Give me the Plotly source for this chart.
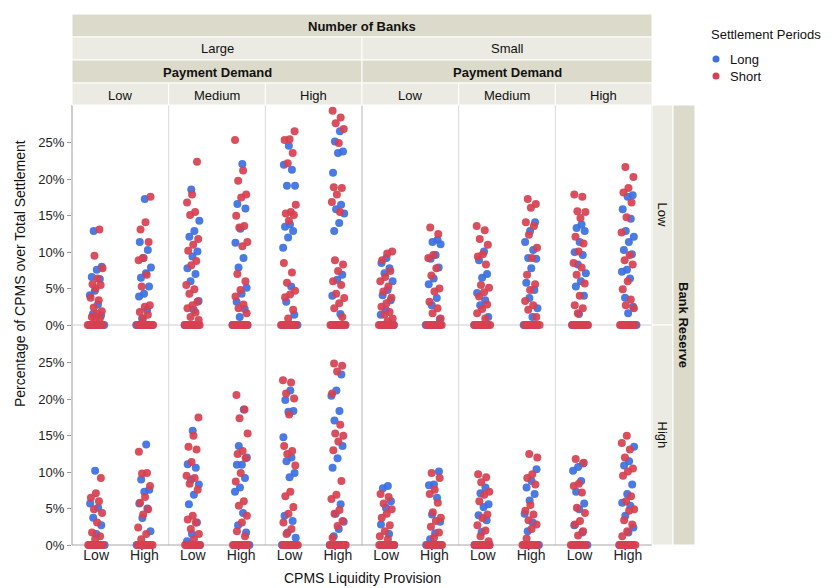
import plotly.graph_objects as go
from plotly.subplots import make_subplots

FONT = "Liberation Sans, Arial, sans-serif"
BLUE = "#3b6fe2"
RED = "#d7404f"
STRIP_DARK = "#dcdacb"
STRIP_LIGHT = "#ebebe3"

# ---- categories -----------------------------------------------------------
settlement_periods = ["Long", "Short"]
cpms_levels = ["Low", "High"]
bank_counts = ["Large", "Small"]
demand_levels = ["Low", "Medium", "High"]
reserve_levels = ["Low", "High"]
y_tick_values = [0, 5, 10, 15, 20, 25]
y_tick_labels = ["0%", "5%", "10%", "15%", "20%", "25%"]

# ---- percentage of CPMS over total settlement ------------------------------
# naming: r<bank reserve>_<number of banks>_<payment demand>_<settlement period>
# each dict holds the runs for CPMS liquidity provision Low / High

# Bank Reserve = Low
rlow_large_low_long = {
    "Low": [12.9, 8.0, 7.6, 6.6, 6.3, 4.7, 4.1, 2.8, 1.5, 1.3, 0, 0, 0, 0, 0, 0],
    "High": [17.3, 11.4, 10.3, 9.2, 7.9, 7.1, 6.5, 5.3, 4.3, 3.9, 2.1, 0.9, 0, 0, 0, 0, 0, 0],
}
rlow_large_low_short = {
    "Low": [13.1, 9.5, 7.8, 6.4, 5.6, 5.5, 5.0, 3.75, 3.4, 2.4, 1.9, 1.5, 1.1, 0.9, 0.7, 0, 0, 0, 0, 0, 0, 0, 0],
    "High": [17.6, 14.1, 13.1, 11.4, 9.2, 8.9, 6.9, 5.3, 2.7, 2.5, 1.8, 1.4, 0.9, 0, 0, 0, 0, 0, 0, 0, 0],
}
rlow_large_medium_long = {
    "Low": [18.6, 14.3, 12.9, 12.1, 10.1, 9.4, 7.8, 7.0, 6.0, 3.3, 2.1, 0, 0, 0, 0, 0, 0],
    "High": [22.1, 16.6, 16.0, 13.2, 11.3, 9.2, 7.9, 5.1, 4.3, 3.2, 2.2, 1.1, 0, 0, 0, 0, 0, 0],
}
rlow_large_medium_short = {
    "Low": [22.4, 17.9, 16.8, 15.5, 15.1, 11.8, 11.0, 10.2, 8.8, 8.2, 5.5, 4.9, 4.3, 3.2, 2.7, 2.3, 1.7, 1.1, 0.7, 0, 0, 0, 0, 0, 0, 0, 0],
    "High": [25.4, 21.2, 19.8, 17.9, 17.5, 15.0, 13.6, 13.4, 11.4, 10.8, 7.0, 6.0, 4.8, 3.9, 2.8, 2.3, 1.6, 0, 0, 0, 0, 0, 0, 0, 0],
}
rlow_large_high_long = {
    "Low": [24.6, 22.0, 21.3, 19.1, 19.1, 13.8, 13.5, 12.9, 12.0, 10.6, 5.3, 3.2, 1.4, 0, 0, 0, 0, 0, 0],
    "High": [26.6, 25.2, 23.8, 23.6, 20.9, 16.5, 15.9, 15.3, 14.0, 12.9, 6.9, 6.2, 4.0, 1.5, 0, 0, 0, 0, 0, 0],
}
rlow_large_high_short = {
    "Low": [26.6, 25.5, 25.4, 23.6, 22.2, 16.5, 15.5, 15.3, 15.1, 14.3, 8.5, 7.2, 5.8, 4.7, 4.2, 3.8, 2.1, 0.9, 0, 0, 0, 0, 0, 0, 0, 0],
    "High": [29.4, 28.5, 27.7, 26.9, 25.0, 18.9, 18.8, 17.9, 16.9, 15.5, 8.9, 8.3, 7.4, 6.0, 5.5, 4.3, 3.7, 3.0, 2.3, 1.1, 0, 0, 0, 0, 0, 0, 0, 0],
}
rlow_small_low_long = {
    "Low": [9.2, 8.5, 7.8, 7.1, 6.0, 4.8, 4.1, 3.4, 2.1, 1.4, 0, 0, 0, 0, 0, 0],
    "High": [11.7, 11.4, 11.1, 9.6, 9.1, 7.9, 6.4, 5.6, 3.7, 2.7, 0.8, 0, 0, 0, 0, 0, 0],
}
rlow_small_low_short = {
    "Low": [10.1, 9.8, 8.9, 7.4, 6.6, 6.0, 5.3, 4.6, 3.75, 3.0, 2.5, 1.8, 1.4, 0.9, 0.5, 0, 0, 0, 0, 0, 0, 0, 0],
    "High": [13.4, 12.5, 9.6, 9.2, 7.8, 6.8, 5.0, 4.6, 3.2, 2.3, 1.6, 0.9, 0, 0, 0, 0, 0, 0, 0, 0],
}
rlow_small_medium_long = {
    "Low": [10.1, 8.9, 7.0, 6.5, 4.4, 3.4, 2.7, 1.1, 0, 0, 0, 0, 0, 0],
    "High": [14.1, 12.9, 11.4, 10.3, 9.2, 9.1, 7.8, 5.8, 4.8, 3.7, 2.3, 1.1, 0, 0, 0, 0, 0, 0],
}
rlow_small_medium_short = {
    "Low": [13.6, 13.0, 11.8, 11.0, 9.7, 9.4, 8.3, 5.5, 5.1, 4.5, 3.9, 2.8, 2.2, 1.6, 0.9, 0, 0, 0, 0, 0, 0, 0, 0],
    "High": [17.3, 16.6, 16.1, 14.1, 13.6, 12.4, 10.6, 9.2, 6.9, 5.6, 4.8, 3.3, 2.7, 2.1, 1.1, 0, 0, 0, 0, 0, 0, 0, 0],
}
rlow_small_high_long = {
    "Low": [13.8, 13.3, 12.9, 11.4, 10.0, 9.6, 8.3, 7.1, 6.0, 5.3, 4.0, 1.5, 0, 0, 0, 0, 0, 0],
    "High": [17.8, 17.6, 15.9, 14.6, 12.9, 12.1, 11.4, 10.3, 9.7, 7.6, 7.3, 6.4, 3.75, 2.5, 1.6, 0, 0, 0, 0, 0, 0],
}
rlow_small_high_short = {
    "Low": [17.9, 17.6, 15.6, 15.5, 14.7, 12.1, 11.2, 10.1, 8.5, 7.9, 6.9, 5.7, 4.0, 2.7, 2.3, 1.6, 0, 0, 0, 0, 0, 0, 0, 0],
    "High": [21.7, 20.3, 18.8, 18.2, 16.8, 14.8, 12.7, 9.6, 8.9, 8.3, 6.0, 4.9, 3.5, 2.7, 2.3, 0, 0, 0, 0, 0, 0, 0, 0],
}

# Bank Reserve = High
rhigh_large_low_long = {
    "Low": [10.2, 5.7, 5.1, 3.75, 2.7, 1.5, 0, 0, 0, 0, 0, 0],
    "High": [13.8, 9.0, 7.6, 7.3, 5.7, 5.0, 3.7, 1.9, 0, 0, 0, 0, 0, 0],
}
rhigh_large_low_short = {
    "Low": [9.2, 7.1, 6.5, 6.0, 4.9, 4.4, 3.1, 1.7, 1.2, 0.8, 0, 0, 0, 0, 0, 0, 0, 0],
    "High": [12.8, 9.9, 9.8, 8.1, 6.6, 5.8, 4.9, 4.2, 2.4, 1.5, 0.8, 0, 0, 0, 0, 0, 0, 0, 0],
}
rhigh_large_medium_long = {
    "Low": [15.7, 11.1, 10.6, 9.0, 8.3, 6.9, 5.6, 3.1, 1.5, 0.5, 0, 0, 0, 0, 0, 0],
    "High": [18.6, 13.6, 12.0, 11.0, 11.0, 9.2, 7.9, 7.3, 4.4, 2.7, 1.7, 0, 0, 0, 0, 0, 0],
}
rhigh_large_medium_short = {
    "Low": [17.5, 15.0, 13.5, 13.1, 11.4, 9.5, 9.2, 8.4, 7.6, 4.0, 3.5, 3.1, 2.2, 1.5, 0.8, 0, 0, 0, 0, 0, 0, 0, 0],
    "High": [20.6, 18.6, 17.4, 15.3, 12.9, 12.5, 11.9, 9.9, 8.7, 6.0, 5.4, 4.0, 3.1, 1.9, 1.2, 0, 0, 0, 0, 0, 0, 0, 0],
}
rhigh_large_high_long = {
    "Low": [21.2, 19.9, 18.4, 18.3, 14.8, 12.0, 11.5, 9.9, 9.3, 4.0, 3.3, 1.7, 1.0, 0, 0, 0, 0, 0, 0],
    "High": [23.4, 21.2, 20.5, 18.4, 17.1, 13.6, 11.9, 10.6, 5.6, 4.3, 3.2, 2.2, 1.2, 0, 0, 0, 0, 0, 0],
}
rhigh_large_high_short = {
    "Low": [22.6, 22.3, 20.8, 20.1, 17.9, 13.6, 12.9, 12.5, 10.9, 7.3, 6.7, 5.2, 4.3, 3.1, 2.2, 1.5, 0, 0, 0, 0, 0, 0, 0, 0],
    "High": [24.9, 24.6, 23.8, 20.8, 16.5, 15.3, 15.0, 14.2, 13.0, 8.8, 6.9, 6.3, 4.8, 4.3, 3.3, 2.6, 1.0, 0, 0, 0, 0, 0, 0, 0, 0],
}
rhigh_small_low_long = {
    "Low": [8.1, 7.8, 6.0, 5.1, 2.8, 1.5, 0, 0, 0, 0, 0, 0],
    "High": [10.1, 8.3, 8.2, 6.5, 4.2, 3.2, 1.6, 0.8, 0, 0, 0, 0, 0, 0],
}
rhigh_small_low_short = {
    "Low": [7.0, 6.6, 5.7, 4.9, 4.3, 3.75, 2.7, 1.9, 1.2, 0.8, 0, 0, 0, 0, 0, 0, 0, 0],
    "High": [9.9, 9.2, 7.6, 7.0, 5.8, 4.5, 3.75, 3.3, 2.5, 1.7, 1.0, 0, 0, 0, 0, 0, 0, 0, 0],
}
rhigh_small_medium_long = {
    "Low": [7.9, 7.1, 5.6, 5.2, 4.1, 3.4, 1.8, 0, 0, 0, 0, 0, 0],
    "High": [10.4, 8.8, 7.9, 7.0, 6.1, 4.3, 3.1, 1.9, 0, 0, 0, 0, 0, 0],
}
rhigh_small_medium_short = {
    "Low": [9.7, 9.3, 8.6, 7.3, 6.9, 6.0, 4.2, 3.7, 2.7, 2.0, 1.2, 0.5, 0, 0, 0, 0, 0, 0, 0, 0],
    "High": [12.5, 12.0, 9.7, 9.2, 8.3, 5.5, 4.7, 4.2, 3.4, 2.8, 2.2, 0.9, 0, 0, 0, 0, 0, 0, 0, 0],
}
rhigh_small_high_long = {
    "Low": [11.2, 10.7, 10.2, 8.8, 7.3, 5.7, 4.9, 2.7, 1.7, 0, 0, 0, 0, 0, 0],
    "High": [13.5, 11.5, 10.9, 8.3, 7.0, 5.8, 5.4, 4.0, 2.4, 1.7, 0, 0, 0, 0, 0, 0],
}
rhigh_small_high_short = {
    "Low": [11.8, 11.3, 8.4, 8.1, 7.2, 5.1, 4.4, 3.3, 2.8, 1.9, 1.3, 0, 0, 0, 0, 0, 0, 0, 0],
    "High": [15.0, 14.0, 13.1, 12.0, 10.5, 10.1, 9.5, 6.7, 6.0, 4.9, 4.7, 3.4, 2.8, 1.9, 1.2, 0, 0, 0, 0, 0, 0, 0, 0],
}

panels = {
    ("Low", "Large", "Low"): (rlow_large_low_long, rlow_large_low_short),
    ("Low", "Large", "Medium"): (rlow_large_medium_long, rlow_large_medium_short),
    ("Low", "Large", "High"): (rlow_large_high_long, rlow_large_high_short),
    ("Low", "Small", "Low"): (rlow_small_low_long, rlow_small_low_short),
    ("Low", "Small", "Medium"): (rlow_small_medium_long, rlow_small_medium_short),
    ("Low", "Small", "High"): (rlow_small_high_long, rlow_small_high_short),
    ("High", "Large", "Low"): (rhigh_large_low_long, rhigh_large_low_short),
    ("High", "Large", "Medium"): (rhigh_large_medium_long, rhigh_large_medium_short),
    ("High", "Large", "High"): (rhigh_large_high_long, rhigh_large_high_short),
    ("High", "Small", "Low"): (rhigh_small_low_long, rhigh_small_low_short),
    ("High", "Small", "Medium"): (rhigh_small_medium_long, rhigh_small_medium_short),
    ("High", "Small", "High"): (rhigh_small_high_long, rhigh_small_high_short),
}

# ---- page geometry (pixels) -------------------------------------------------
W, H = 833, 588
L, R, T, B = 72, 652, 105, 545


def px(x):
    return (x - L) / (R - L)


def py(y):
    return (B - y) / (B - T)


def jittered(values, center, phase):
    """Spread a cluster sideways around its category (deterministic jitter)."""
    xs = []
    for k, v in enumerate(values):
        frac = (k * 0.6180339887 + phase) % 1.0 - 0.5
        width = 0.36 if v == 0 else 0.27
        xs.append(center + frac * width)
    return xs


fig = make_subplots(rows=2, cols=6, horizontal_spacing=0, vertical_spacing=0)

col_keys = [(b, d) for b in bank_counts for d in demand_levels]
for r, reserve in enumerate(reserve_levels, start=1):
    for c, (banks, demand) in enumerate(col_keys, start=1):
        long_d, short_d = panels[(reserve, banks, demand)]
        for period, data, color, ph in (("Long", long_d, BLUE, 0.13),
                                        ("Short", short_d, RED, 0.57)):
            xs, ys = [], []
            for ci, lvl in enumerate(cpms_levels):
                vals = data[lvl]
                xs += jittered(vals, ci, ph + 0.21 * ci + 0.07 * c + 0.11 * r)
                ys += vals
            fig.add_trace(go.Scatter(
                x=xs, y=ys, mode="markers", name=period, showlegend=False,
                cliponaxis=False,
                marker=dict(color=color, size=8, opacity=0.92, line=dict(width=0)),
                hovertemplate=period + ": %{y:.1f}%<extra></extra>",
            ), row=r, col=c)

fig.update_xaxes(range=[-0.5, 1.5], tickmode="array", tickvals=[0, 1],
                 ticktext=cpms_levels, showgrid=False, zeroline=False,
                 showline=False, ticks="", fixedrange=True,
                 tickfont=dict(family=FONT, size=14, color="#222"))
fig.update_xaxes(showticklabels=False, row=1)
fig.update_yaxes(range=[0, 30.2], tickmode="array", tickvals=y_tick_values,
                 ticktext=y_tick_labels, showgrid=False, zeroline=False,
                 showline=False, showticklabels=False, ticks="", fixedrange=True)
fig.update_yaxes(showticklabels=True, ticks="outside", ticklen=4,
                 tickcolor="#999", tickfont=dict(family=FONT, size=13, color="#222"),
                 col=1)

shapes = []


def rect(x0, x1, y0, y1, fill):
    shapes.append(dict(type="rect", xref="paper", yref="paper",
                       x0=px(x0), x1=px(x1), y0=py(y1), y1=py(y0),
                       fillcolor=fill, line=dict(color="white", width=1),
                       layer="above"))


def vline(x, y0, y1, color, width=1):
    shapes.append(dict(type="line", xref="paper", yref="paper",
                       x0=px(x), x1=px(x), y0=py(y0), y1=py(y1),
                       line=dict(color=color, width=width), layer="below"))


def hline(y, x0, x1, color, width=1):
    shapes.append(dict(type="line", xref="paper", yref="paper",
                       x0=px(x0), x1=px(x1), y0=py(y), y1=py(y),
                       line=dict(color=color, width=width), layer="below"))


annotations = []


def label(x, y, text, size=13, bold=False, angle=0, anchor="center"):
    annotations.append(dict(xref="paper", yref="paper", x=px(x), y=py(y),
                            text=f"<b>{text}</b>" if bold else text,
                            showarrow=False, textangle=angle, xanchor=anchor,
                            yanchor="middle",
                            font=dict(family=FONT, size=size, color="#111")))


col_w = (R - L) / 6
edges = [L + k * col_w for k in range(7)]
mid = (L + R) / 2

# panel frame lines
for k in (1, 2, 4, 5):
    vline(edges[k], T, B, "#dadada")
vline(mid, T, B, "#b5b5b5")
vline(L, T, B, "#9c9c9c")
vline(R, T, B, "#cfcfcf")
hline((T + B) / 2, L, R, "#cfcfcf")
hline(B, L, R, "#a6a6a6")

# column header strips
rect(L, R, 14, 37, STRIP_DARK)
label(mid, 26, "Number of Banks", bold=True)
for i, banks in enumerate(bank_counts):
    x0, x1 = (L, mid) if i == 0 else (mid, R)
    rect(x0, x1, 37, 60, STRIP_LIGHT)
    label((x0 + x1) / 2, 48.5, banks)
    rect(x0, x1, 60, 83, STRIP_DARK)
    label((x0 + x1) / 2, 72, "Payment Demand", bold=True)
for k in range(6):
    rect(edges[k], edges[k + 1], 83, 105, STRIP_LIGHT)
    label((edges[k] + edges[k + 1]) / 2, 95, demand_levels[k % 3])

# row header strips
row_mid = (T + B) / 2
for i, lvl in enumerate(reserve_levels):
    y0, y1 = (T, row_mid) if i == 0 else (row_mid, B)
    rect(R, 673, y0, y1, STRIP_LIGHT)
    label(662.5, (y0 + y1) / 2, lvl, angle=90)
rect(673, 695, T, B, STRIP_DARK)
label(684, row_mid, "Bank Reserve", bold=True, angle=90)

# axis titles
label(mid, 578, "CPMS Liquidity Provision", size=14)
label(20, 274, "Percentage of CPMS over Total Settlement", size=14, angle=-90)

# legend
label(709, 35, "Settlement Periods", size=13, anchor="left")
for name, color, y in (("Long", BLUE, 59), ("Short", RED, 76)):
    shapes.append(dict(type="circle", xref="paper", yref="paper",
                       xsizemode="pixel", ysizemode="pixel",
                       xanchor=px(716), yanchor=py(y),
                       x0=-3.5, x1=3.5, y0=-3.5, y1=3.5,
                       fillcolor=color, line=dict(width=0), layer="above"))
    label(728, y, name, size=13, anchor="left")

fig.update_layout(
    width=W, height=H,
    margin=dict(l=L, r=W - R, t=T, b=H - B, pad=0),
    paper_bgcolor="white", plot_bgcolor="white",
    showlegend=False, shapes=shapes, annotations=annotations,
    font=dict(family=FONT, size=13, color="#222"),
)

fig.write_html("out.html")
